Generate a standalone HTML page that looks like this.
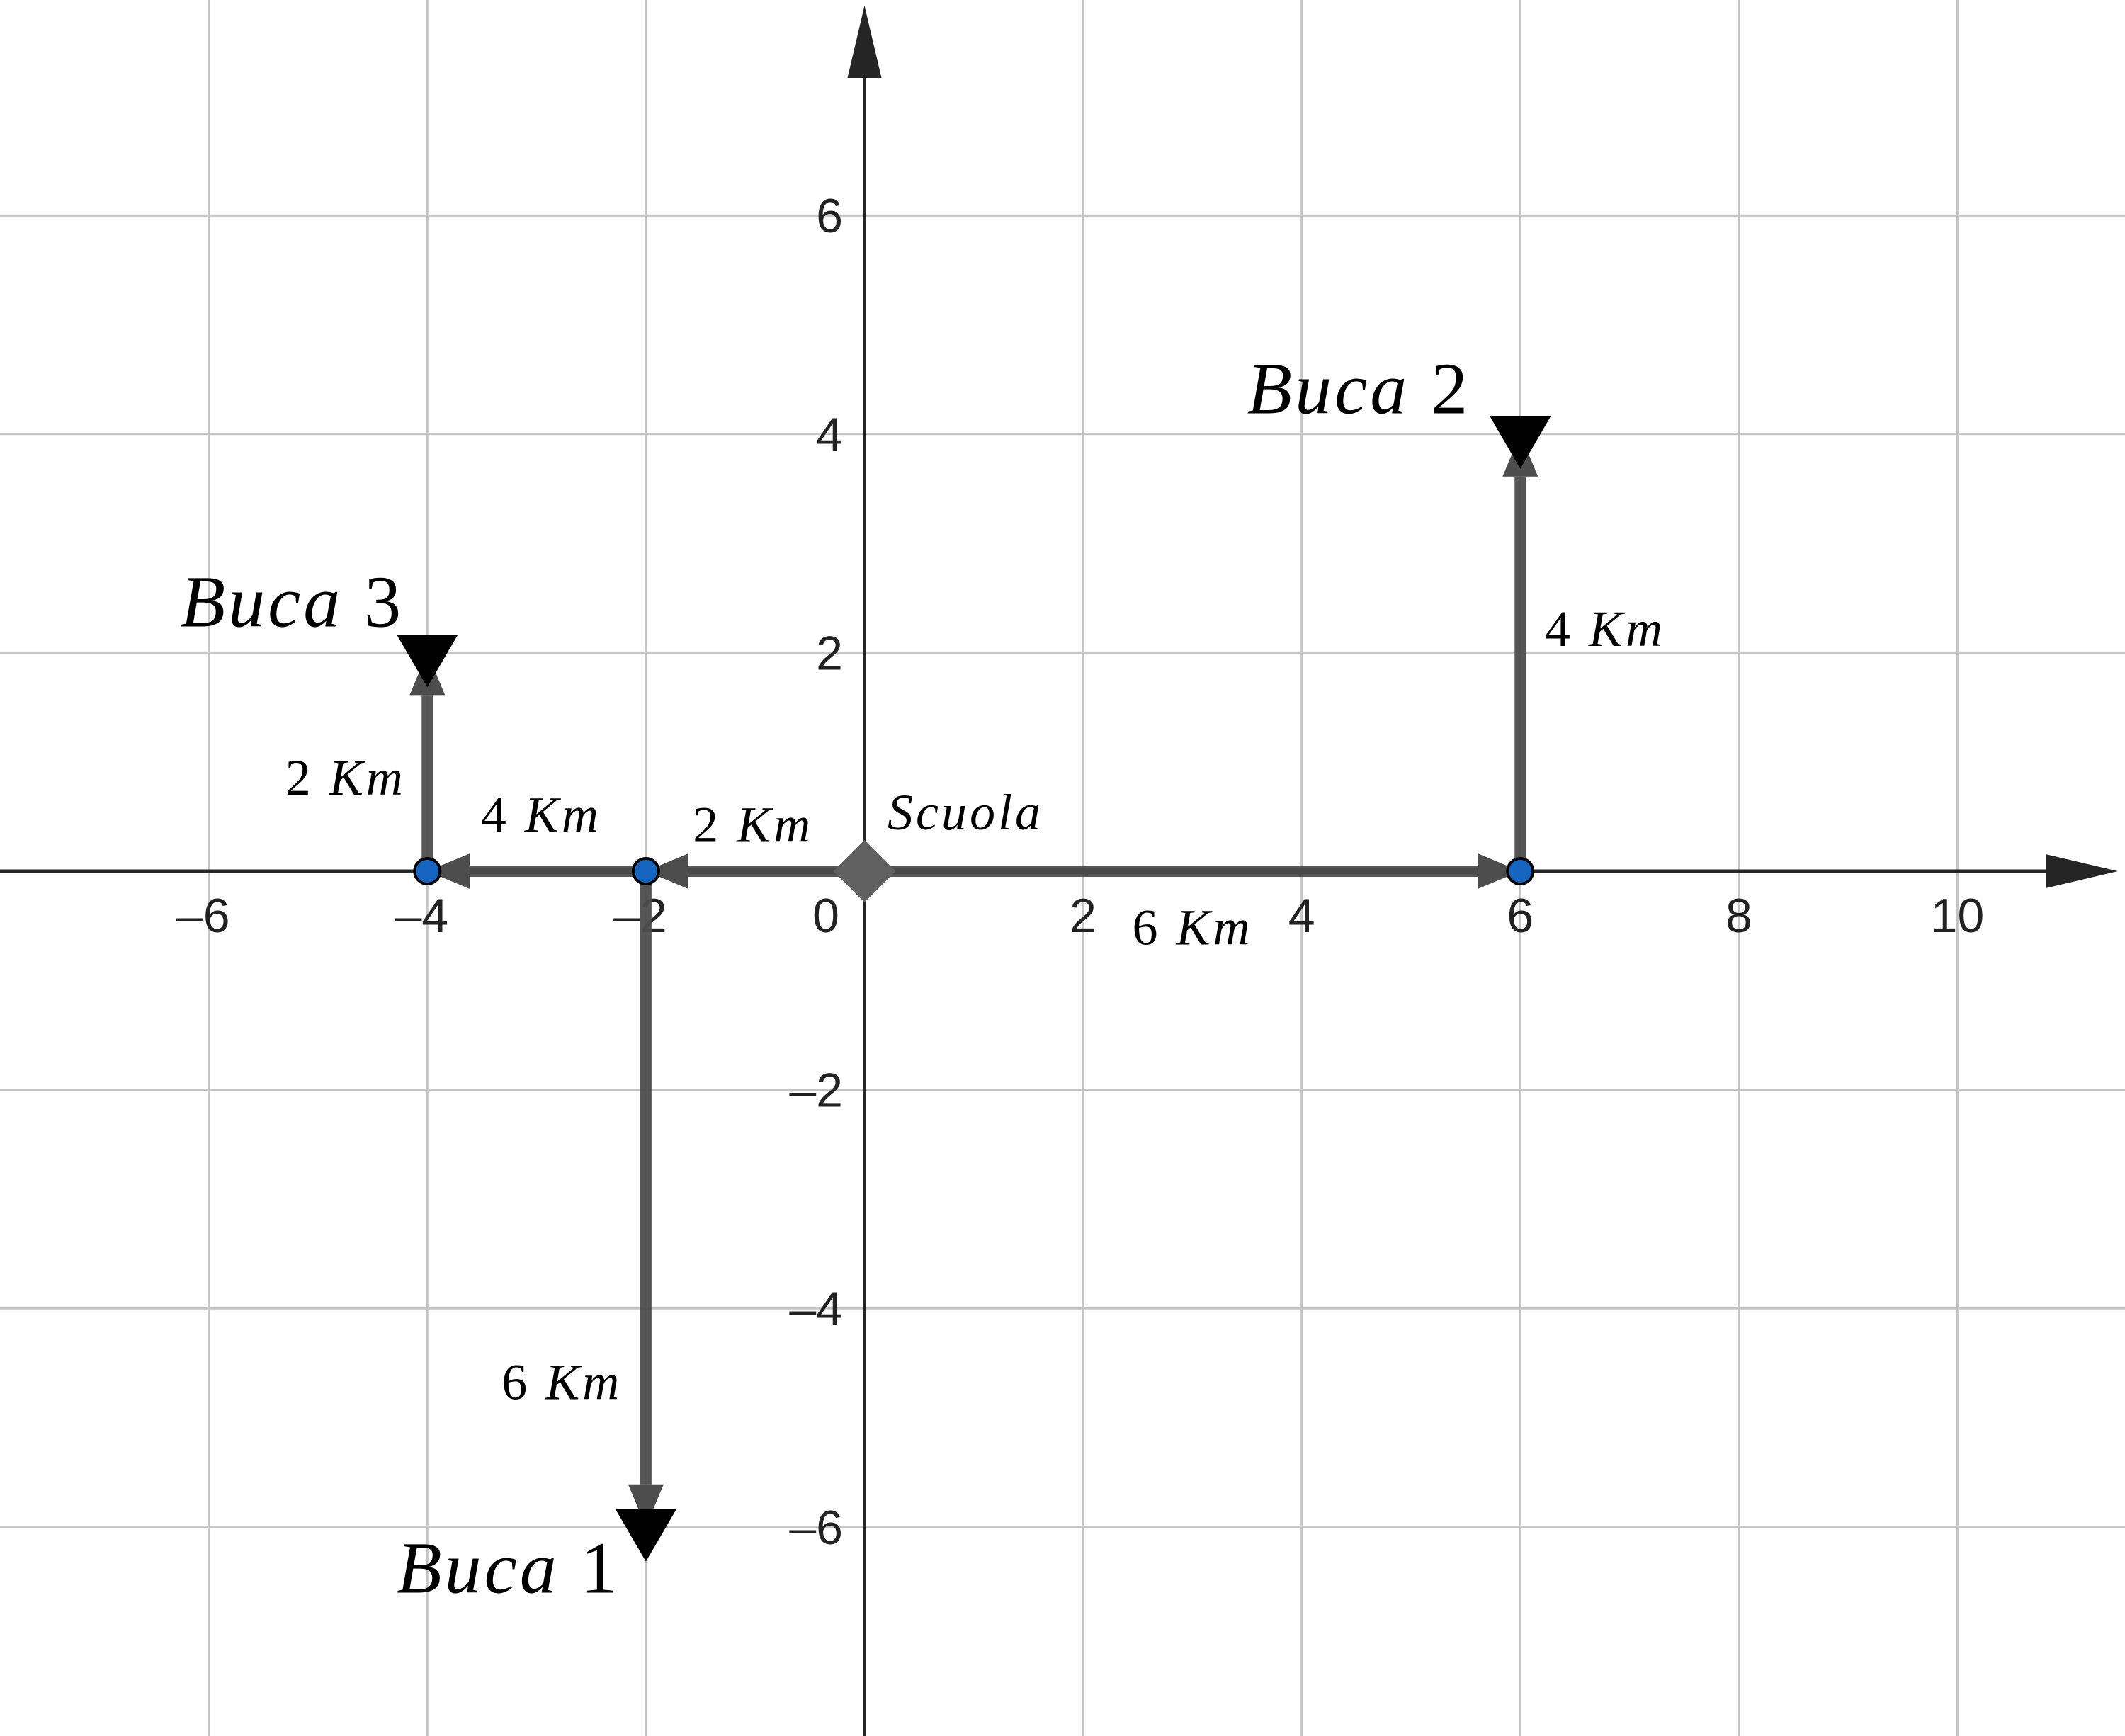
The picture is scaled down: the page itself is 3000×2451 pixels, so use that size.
<!DOCTYPE html>
<html><head><meta charset="utf-8"><style>
html,body{margin:0;padding:0;background:#fff}
svg{display:block}
.tick{font-family:"Liberation Sans",sans-serif;font-size:68px;fill:#222}
.lbl{font-family:"Liberation Serif",serif;fill:#000}
</style></head><body>
<svg id="chart" width="3000" height="2451" viewBox="0 0 3000 2451" xmlns="http://www.w3.org/2000/svg">
<g id="grid"></g>
<g id="axes"></g>
<g id="vecs"></g>
<g id="marks"></g>
<g id="labels"></g>
</svg>
<script>
const xTicks=[-6,-4,-2,2,4,6,8,10];
const yTicks=[6,4,2,-2,-4,-6];
const vecFrom=[[0,0],[-2,0],[-4,0],[-2,0],[0,0],[6,0]];
const vecTo=[[-2,0],[-4,0],[-4,2],[-2,-6],[6,0],[6,4]];
const dotPts=[[6,0],[-2,0],[-4,0]];
const bucaPts=[[6,4],[-4,2],[-2,-6]];
const bucaNames=["2","3","1"];
const kmVals=["4","2","4","2","6","6"];
const kmPos=[[6.225,2.06],[-5.30,0.70],[-3.51,0.36],[-1.57,0.27],[2.45,-0.67],[-3.32,-4.83]];
const bucaLblPos=[[3.50,4.19],[-6.26,2.24],[-4.28,-6.60]];

const svg=document.getElementById('chart');
const NS="http://www.w3.org/2000/svg";
const ox=1220.5, oy=1230, u=154.3;
const X=v=>ox+v*u, Y=v=>oy-v*u;
function mk(tag,attrs,parent){const e=document.createElementNS(NS,tag);for(const k in attrs)e.setAttribute(k,attrs[k]);parent.appendChild(e);return e;}
const grid=document.getElementById('grid'),axes=document.getElementById('axes'),vecs=document.getElementById('vecs'),marks=document.getElementById('marks'),labels=document.getElementById('labels');

for(let v=-6;v<=10;v+=2){if(v===0)continue;const l=mk('line',{x1:X(v),y1:0,x2:X(v),y2:2451,stroke:'#c4c4c4','stroke-width':3},grid);

}
for(let v=-6;v<=6;v+=2){if(v===0)continue;const l=mk('line',{x1:0,y1:Y(v),x2:3000,y2:Y(v),stroke:'#c4c4c4','stroke-width':3},grid);

}

let a=mk('line',{x1:0,y1:oy,x2:2950,y2:oy,stroke:'#252525','stroke-width':5},axes);


a=mk('polygon',{points:`2990,${oy} 2888,${oy-24} 2888,${oy+24}`,fill:'#252525'},axes);


a=mk('line',{x1:ox,y1:40,x2:ox,y2:2451,stroke:'#252525','stroke-width':5},axes);


a=mk('polygon',{points:`${ox},8 ${ox-24},110 ${ox+24},110`,fill:'#252525'},axes);



xTicks.forEach(v=>{const t=mk('text',{x:X(v)+(v<0?-8:0),y:1316,'text-anchor':'middle',class:'tick'},axes);t.textContent=v<0?'\u2013'+(-v):String(v);

});
yTicks.forEach(v=>{const t=mk('text',{x:1190,y:Y(v)+24,'text-anchor':'end',class:'tick'},axes);t.textContent=v<0?'\u2013'+(-v):String(v);

});
let z=mk('text',{x:1166,y:1316,'text-anchor':'middle',class:'tick'},axes);z.textContent='0';



let bl=mk('line',{x1:X(-4),y1:oy,x2:X(6),y2:oy,stroke:'#000','stroke-width':9},vecs);


vecFrom.forEach((f,i)=>{const t=vecTo[i];const x1=X(f[0]),y1=Y(f[1]),x2=X(t[0]),y2=Y(t[1]);
const dx=x2-x1,dy=y2-y1,L=Math.hypot(dx,dy),ux=dx/L,uy=dy/L,hl=60,hw=25;
const bx=x2-ux*hl,by=y2-uy*hl;
const g=mk('g',{},vecs);


mk('line',{x1:x1,y1:y1,x2:bx,y2:by,stroke:'#4d4d4d','stroke-width':16,'stroke-opacity':0.95},g);
mk('polygon',{points:`${x2},${y2} ${bx-uy*hw},${by+ux*hw} ${bx+uy*hw},${by-ux*hw}`,fill:'#4d4d4d'},g);});

bucaPts.forEach(p=>{const x=X(p[0]),y=Y(p[1]);const t=mk('polygon',{points:`${x-43},${y-25} ${x+43},${y-25} ${x},${y+49}`,fill:'#000'},marks);

});
dotPts.forEach(p=>{const c=mk('circle',{cx:X(p[0]),cy:Y(p[1]),r:18,fill:'#1565c0',stroke:'#000','stroke-width':4},marks);

});
let d=mk('polygon',{points:`${ox},${oy-44} ${ox+44},${oy} ${ox},${oy+44} ${ox-44},${oy}`,fill:'#606060'},marks);



kmVals.forEach((v,i)=>{const t=mk('text',{x:X(kmPos[i][0]),y:Y(kmPos[i][1]),class:'lbl','font-size':72,'letter-spacing':4},labels);
t.innerHTML=v+'  <tspan font-style="italic">Km</tspan>';

});
bucaNames.forEach((n,i)=>{const t=mk('text',{x:X(bucaLblPos[i][0]),y:Y(bucaLblPos[i][1]),class:'lbl','font-size':104,'letter-spacing':4},labels);
t.innerHTML='<tspan font-style="italic">Buca</tspan> '+n;

});
let s=mk('text',{x:1253,y:1171,class:'lbl','font-size':72,'font-style':'italic','letter-spacing':4},labels);s.textContent='Scuola';


</script>
</body></html>
